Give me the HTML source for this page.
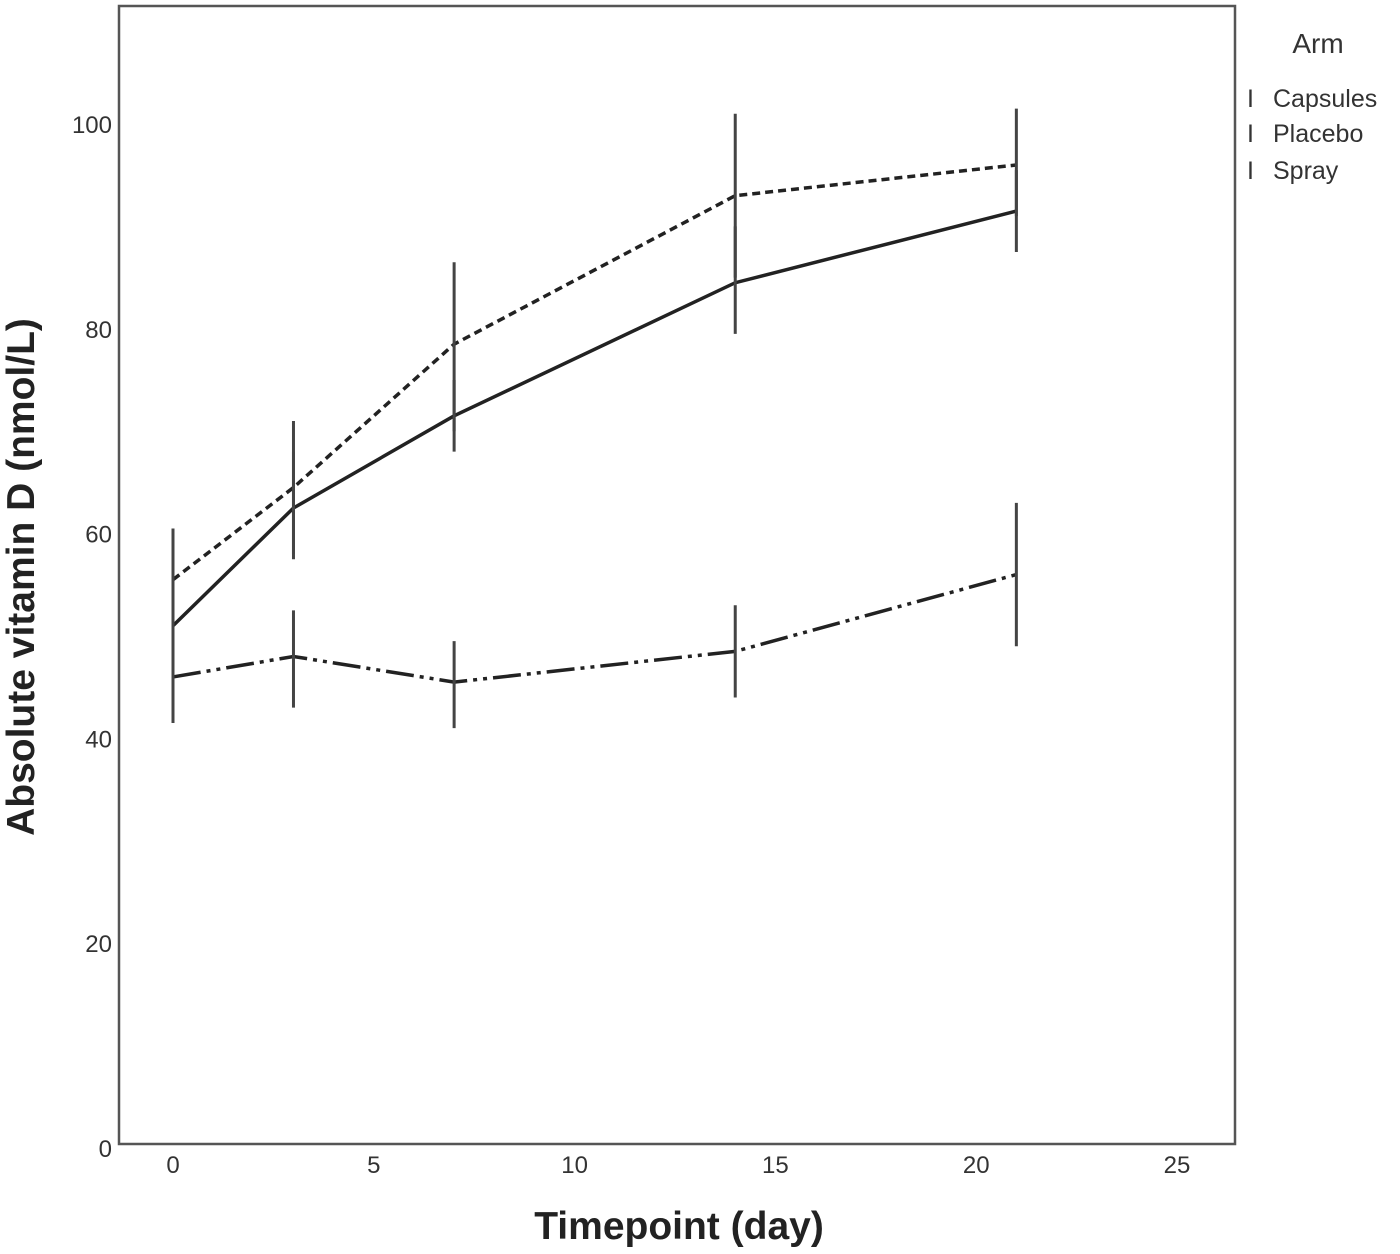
<!DOCTYPE html>
<html><head><meta charset="utf-8"><style>
html,body{margin:0;padding:0;background:#fff;}
svg{display:block;font-family:"Liberation Sans",sans-serif;}
</style></head><body>
<svg id="chart" width="1400" height="1254">
<rect x="119" y="6" width="1116" height="1138" fill="none" stroke="#555" stroke-width="2.5"/>
<g id="yticks"></g>
<g id="xticks"></g>
<g id="series"></g>
<text x="0" y="0" transform="translate(34,577) rotate(-90)" text-anchor="middle" font-size="39" font-weight="bold" fill="#222">Absolute vitamin D (nmol/L)</text>
<text x="679" y="1239" text-anchor="middle" font-size="39" font-weight="bold" fill="#222">Timepoint (day)</text>
<g font-size="25" fill="#333">
<text x="1318" y="53" text-anchor="middle" font-size="28">Arm</text>
<g><text x="1247" y="107">I</text><text x="1273" y="107">Capsules</text></g>
<g><text x="1247" y="142">I</text><text x="1273" y="142">Placebo</text></g>
<g><text x="1247" y="179">I</text><text x="1273" y="179">Spray</text></g>
</g>
</svg>
<script>
const days = [0, 3, 7, 14, 21];
const yTickValues = [0, 20, 40, 60, 80, 100];
const xTickValues = [0, 5, 10, 15, 20, 25];
const spraySeries = [55.5, 64.5, 78.5, 93, 96];
const sprayLow = [50, 58, 70, 85, 91];
const sprayHigh = [60.5, 71, 86.5, 101, 101.5];
const capsulesSeries = [51, 62.5, 71.5, 84.5, 91.5];
const capsulesLow = [46, 57.5, 68, 79.5, 87.5];
const capsulesHigh = [56, 68, 75, 90, 95.5];
const placeboSeries = [46, 48, 45.5, 48.5, 56];
const placeboLow = [41.5, 43, 41, 44, 49];
const placeboHigh = [50.5, 52.5, 49.5, 53, 63];

const NS = "http://www.w3.org/2000/svg";
const xs = d => 173 + d * 40.16;
const ys = v => 1148 - v * 10.24;
function mk(tag, attrs, parent){const e=document.createElementNS(NS,tag);for(const k in attrs)e.setAttribute(k,attrs[k]);parent.appendChild(e);return e;}
const yg=document.getElementById('yticks'), xg=document.getElementById('xticks'), sg=document.getElementById('series');
yTickValues.forEach(v=>{
  const t=mk('text',{x:112,y:ys(v)+9,'text-anchor':'end','font-size':'24',fill:'#333'},yg);
  t.textContent=v;
  
  
});
xTickValues.forEach(v=>{
  const t=mk('text',{x:xs(v),y:1173,'text-anchor':'middle','font-size':'24',fill:'#333'},xg);
  t.textContent=v;
  
  
});
function series(name, vals, lo, hi, dash){
  const p=mk('polyline',{points:days.map((d,i)=>xs(d)+','+ys(vals[i])).join(' '),fill:'none',stroke:'#222','stroke-width':'3.5','stroke-dasharray':dash},sg);
  
  
  days.forEach((d,i)=>{
    const l=mk('line',{x1:xs(d),x2:xs(d),y1:ys(lo[i]),y2:ys(hi[i]),stroke:'#444','stroke-width':'3'},sg);
    
    
  });
}
series('spray', spraySeries, sprayLow, sprayHigh, '8 5');
series('capsules', capsulesSeries, capsulesLow, capsulesHigh, 'none');
series('placebo', placeboSeries, placeboLow, placeboHigh, '28 6 4 6 4 6');
</script>
</body></html>
